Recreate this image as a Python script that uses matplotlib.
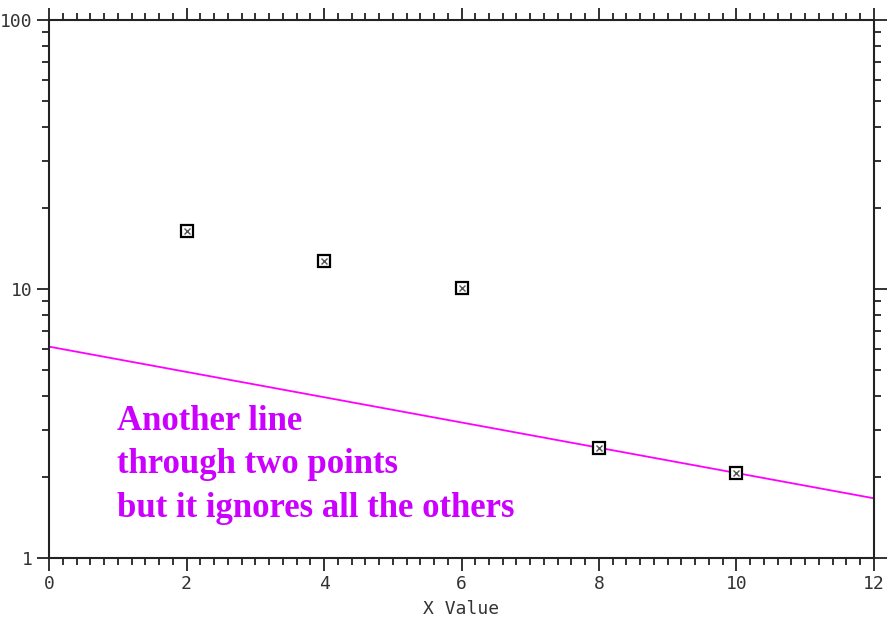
import numpy as np
import matplotlib.pyplot as plt
from matplotlib.ticker import MultipleLocator, LogLocator, NullFormatter, FixedLocator

# data
x_pts = [2, 4, 6, 8, 10]
y_pts = [16.4, 12.7, 10.1, 2.57, 2.07]
fit_idx = [3, 4]          # the two points the line goes through
x_range = [0, 12]
y_ticks = [1, 10, 100]
note = "Another line\nthrough two points\nbut it ignores all the others"

mono = 'DejaVu Sans Mono'

fig = plt.figure(figsize=(8.93, 6.19), dpi=100)
ax = fig.add_axes([0.0549, 0.0985, 0.9238, 0.8692])

# line through the two chosen points (straight on the log axis)
xa, xb = x_pts[fit_idx[0]], x_pts[fit_idx[1]]
ya, yb = np.log10(y_pts[fit_idx[0]]), np.log10(y_pts[fit_idx[1]])
slope = (yb - ya) / (xb - xa)
xl = np.array(x_range, dtype=float)
yl = 10 ** (ya + slope * (xl - xa))
ax.plot(xl, yl, color='#ff00ff', lw=1.3, zorder=2)

ax.plot(x_pts, y_pts, ls='none', marker='s', ms=8, mfc='white', mec='black', mew=1.6, zorder=3)
ax.plot(x_pts, y_pts, ls='none', marker='x', ms=4.5, mec='#555555', mew=1.0, zorder=4)

ax.set_yscale('log')
ax.set_xlim(*x_range)
ax.set_ylim(y_ticks[0], y_ticks[-1])

ax.xaxis.set_major_locator(MultipleLocator(2))
ax.xaxis.set_minor_locator(MultipleLocator(0.2))
ax.yaxis.set_major_locator(FixedLocator(y_ticks))
ax.yaxis.set_minor_locator(LogLocator(base=10, subs=np.arange(2, 10)))
ax.yaxis.set_minor_formatter(NullFormatter())
ax.set_yticklabels([str(v) for v in y_ticks])

for s in ax.spines.values():
    s.set_linewidth(1.5)
    s.set_color('#222222')

ax.tick_params(which='both', direction='out', top=True, right=True, color='#222222', width=1.3)
ax.tick_params(which='major', length=9, labelsize=13, labelcolor='#333333', pad=3)
ax.tick_params(which='minor', length=5)
for lab in ax.get_xticklabels() + ax.get_yticklabels():
    lab.set_family(mono)

ax.set_xlabel('X Value', family=mono, fontsize=13, color='#333333', labelpad=5)

ax.text(0.0826, 0.285, note, transform=ax.transAxes, family='Liberation Serif',
        fontweight='bold', fontsize=25, color='#cc00ff', va='top', ha='left',
        linespacing=1.42)

fig.savefig('out.png', dpi=100)
